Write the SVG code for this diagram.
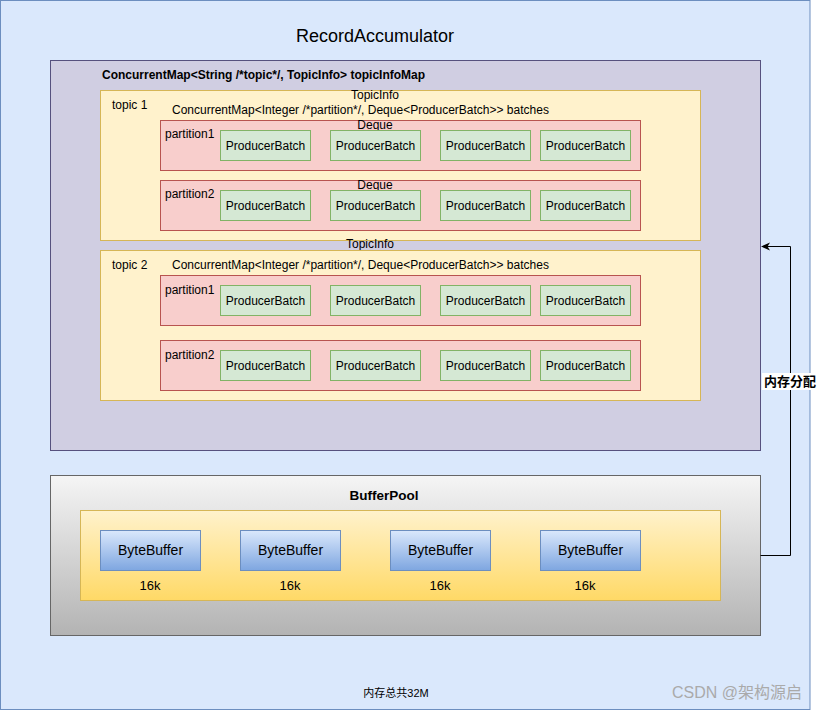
<svg xmlns="http://www.w3.org/2000/svg" width="817" height="711" viewBox="0 0 817 711">
<defs>
<linearGradient id="gGray" x1="0" y1="0" x2="0" y2="1"><stop offset="0" stop-color="#f5f5f5"/><stop offset="1" stop-color="#b3b3b3"/></linearGradient>
<linearGradient id="gYel" x1="0" y1="0" x2="0" y2="1"><stop offset="0" stop-color="#fff2cc"/><stop offset="1" stop-color="#ffd966"/></linearGradient>
<linearGradient id="gBlue" x1="0" y1="0" x2="0" y2="1"><stop offset="0" stop-color="#dae8fc"/><stop offset="1" stop-color="#7ea6e0"/></linearGradient>
<marker id="arr" markerWidth="10" markerHeight="10" refX="8" refY="5" orient="auto" markerUnits="userSpaceOnUse"><path d="M0,1 L9,5 L0,9 L2.5,5 Z" fill="#000"/></marker>
</defs>
<style>
text{font-family:"Liberation Sans",Arial,"Noto Sans CJK SC",sans-serif;fill:#000}
.t12{font-size:12px}
.b{font-weight:bold}
.mid{text-anchor:middle}
.topic{fill:#fff2cc;stroke:#d6b656}
.part{fill:#f8cecc;stroke:#b85450}
.pb{fill:#d5e8d4;stroke:#82b366}
.bb{fill:url(#gBlue);stroke:#6c8ebf}
</style>
<g id="outer">
<rect x="0.5" y="0.5" width="809.5" height="709" fill="#dae8fc" stroke="#6c8ebf"/>
<text x="375" y="42" class="mid" font-size="18">RecordAccumulator</text>
</g>
<g id="topicInfoMap">
<rect x="50.5" y="60.5" width="710" height="390" fill="#d0cee2" stroke="#56517e"/>
<text x="102" y="79" class="t12 b">ConcurrentMap&lt;String /*topic*/, TopicInfo&gt; topicInfoMap</text>
</g>
<g id="topic1">
<rect x="100.5" y="90.5" width="600" height="150" class="topic"/>
<text x="375" y="99" class="t12 mid">TopicInfo</text>
<text x="112" y="109" class="t12">topic 1</text>
<text x="172" y="114" class="t12">ConcurrentMap&lt;Integer /*partition*/, Deque&lt;ProducerBatch&gt;&gt; batches</text>
</g>
<g id="t1p1">
<rect x="160.5" y="120.5" width="480" height="50" class="part"/>
<text x="375" y="129" class="t12 mid">Deque</text>
<text x="165" y="138" class="t12">partition1</text>
<rect x="220.5" y="130.5" width="90" height="30" class="pb"/><text x="265.5" y="149.5" class="t12 mid">ProducerBatch</text>
<rect x="330.5" y="130.5" width="90" height="30" class="pb"/><text x="375.5" y="149.5" class="t12 mid">ProducerBatch</text>
<rect x="440.5" y="130.5" width="90" height="30" class="pb"/><text x="485.5" y="149.5" class="t12 mid">ProducerBatch</text>
<rect x="540.5" y="130.5" width="90" height="30" class="pb"/><text x="585.5" y="149.5" class="t12 mid">ProducerBatch</text>
</g>
<g id="t1p2">
<rect x="160.5" y="180.5" width="480" height="50" class="part"/>
<text x="375" y="189" class="t12 mid">Deque</text>
<text x="165" y="198" class="t12">partition2</text>
<rect x="220.5" y="190.5" width="90" height="30" class="pb"/><text x="265.5" y="209.5" class="t12 mid">ProducerBatch</text>
<rect x="330.5" y="190.5" width="90" height="30" class="pb"/><text x="375.5" y="209.5" class="t12 mid">ProducerBatch</text>
<rect x="440.5" y="190.5" width="90" height="30" class="pb"/><text x="485.5" y="209.5" class="t12 mid">ProducerBatch</text>
<rect x="540.5" y="190.5" width="90" height="30" class="pb"/><text x="585.5" y="209.5" class="t12 mid">ProducerBatch</text>
</g>
<g id="topic2">
<text x="370" y="248" class="t12 mid">TopicInfo</text>
<rect x="100.5" y="250.5" width="600" height="150" class="topic"/>
<text x="112" y="269" class="t12">topic 2</text>
<text x="172" y="269" class="t12">ConcurrentMap&lt;Integer /*partition*/, Deque&lt;ProducerBatch&gt;&gt; batches</text>
</g>
<g id="t2p1">
<rect x="160.5" y="275.5" width="480" height="50" class="part"/>
<text x="165" y="294" class="t12">partition1</text>
<rect x="220.5" y="285.5" width="90" height="30" class="pb"/><text x="265.5" y="304.5" class="t12 mid">ProducerBatch</text>
<rect x="330.5" y="285.5" width="90" height="30" class="pb"/><text x="375.5" y="304.5" class="t12 mid">ProducerBatch</text>
<rect x="440.5" y="285.5" width="90" height="30" class="pb"/><text x="485.5" y="304.5" class="t12 mid">ProducerBatch</text>
<rect x="540.5" y="285.5" width="90" height="30" class="pb"/><text x="585.5" y="304.5" class="t12 mid">ProducerBatch</text>
</g>
<g id="t2p2">
<rect x="160.5" y="340.5" width="480" height="50" class="part"/>
<text x="165" y="359" class="t12">partition2</text>
<rect x="220.5" y="350.5" width="90" height="30" class="pb"/><text x="265.5" y="369.5" class="t12 mid">ProducerBatch</text>
<rect x="330.5" y="350.5" width="90" height="30" class="pb"/><text x="375.5" y="369.5" class="t12 mid">ProducerBatch</text>
<rect x="440.5" y="350.5" width="90" height="30" class="pb"/><text x="485.5" y="369.5" class="t12 mid">ProducerBatch</text>
<rect x="540.5" y="350.5" width="90" height="30" class="pb"/><text x="585.5" y="369.5" class="t12 mid">ProducerBatch</text>
</g>
<g id="bufferPool">
<rect x="50.5" y="475.5" width="710" height="160" fill="url(#gGray)" stroke="#666666"/>
<text x="384" y="500" class="b mid" font-size="13.5">BufferPool</text>
<rect x="80.5" y="510.5" width="640" height="90" fill="url(#gYel)" stroke="#d6b656"/>
</g>
<g id="bb1"><rect x="100.5" y="530.5" width="100" height="40" class="bb"/><text x="150.5" y="555" class="mid" font-size="14">ByteBuffer</text><text x="150" y="590" class="mid" font-size="13">16k</text></g>
<g id="bb2"><rect x="240.5" y="530.5" width="100" height="40" class="bb"/><text x="290.5" y="555" class="mid" font-size="14">ByteBuffer</text><text x="290" y="590" class="mid" font-size="13">16k</text></g>
<g id="bb3"><rect x="390.5" y="530.5" width="100" height="40" class="bb"/><text x="440.5" y="555" class="mid" font-size="14">ByteBuffer</text><text x="440" y="590" class="mid" font-size="13">16k</text></g>
<g id="bb4"><rect x="540.5" y="530.5" width="100" height="40" class="bb"/><text x="590.5" y="555" class="mid" font-size="14">ByteBuffer</text><text x="585" y="590" class="mid" font-size="13">16k</text></g>
<g id="connectors">
<path d="M760.5,555.5 H790.5 V246.5 H762" fill="none" stroke="#000" marker-end="url(#arr)"/>
<rect x="762" y="373" width="56" height="17" fill="#ffffff"/>
<text x="790" y="386" class="b mid" font-size="13">内存分配</text>
</g>
<g id="footer">
<text x="396" y="697" class="mid" font-size="11">内存总共32M</text>
<text x="802" y="698" text-anchor="end" font-size="16" style="fill:#aaaaaa">CSDN @架构源启</text>
</g>
</svg>
